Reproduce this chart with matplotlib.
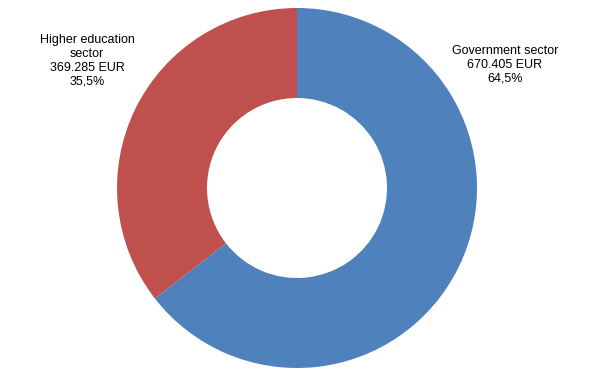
import matplotlib
matplotlib.use("Agg")
import matplotlib.pyplot as plt

categories = ["Government sector", "Higher education sector"]
values = [670.405, 369.285]
value_labels = ["670.405 EUR", "369.285 EUR"]
pct_labels = ["64,5%", "35,5%"]
colors = ["#4F81BD", "#C0504D"]

W, H = 598, 377
fig = plt.figure(figsize=(W / 100, H / 100), dpi=100)
cx, cy, r = 297, 188, 180
ax = fig.add_axes([(cx - r) / W, (H - cy - r) / H, 2 * r / W, 2 * r / H])
ax.pie(values, colors=colors, startangle=90, counterclock=False, radius=1,
       wedgeprops=dict(width=0.5, linewidth=0))
ax.set_xlim(-1, 1)
ax.set_ylim(-1, 1)
ax.set_aspect("equal")
ax.axis("off")

font = dict(family=["Liberation Sans", "DejaVu Sans"], fontsize=9, color="black",
            ha="center", va="center", linespacing=1.2)
fig.text(505 / W, 1 - 65 / H,
         f"{categories[0]}\n{value_labels[0]}\n{pct_labels[0]}", **font)
fig.text(87 / W, 1 - 61 / H,
         f"Higher education\nsector\n{value_labels[1]}\n{pct_labels[1]}", **font)

fig.savefig("out.png", dpi=100, facecolor="white")
